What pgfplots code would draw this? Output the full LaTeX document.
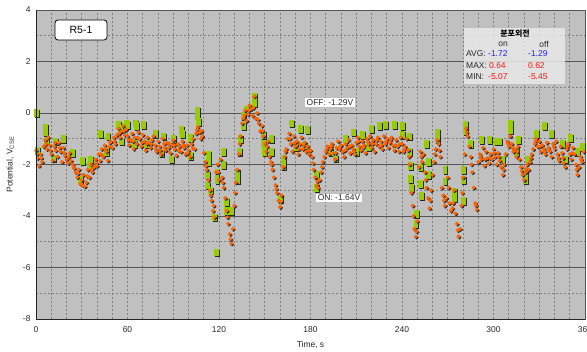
\documentclass[border=0pt]{standalone}
\usepackage{fontspec}
\setmainfont{Liberation Sans}
\newfontfamily\kr{Noto Sans CJK KR}
\usepackage{pgfplots}
\usepackage{pgfplotstable}
\pgfplotsset{compat=1.18}
\definecolor{plotbg}{RGB}{192,192,192}
\definecolor{majgrid}{RGB}{85,85,85}
\definecolor{mingrid}{RGB}{128,128,128}
\definecolor{offgreen}{RGB}{153,204,0}
\definecolor{onorange}{RGB}{255,102,0}
\definecolor{avgblue}{RGB}{30,30,255}
\definecolor{valred}{RGB}{255,20,20}
\definecolor{legbg}{RGB}{232,232,232}
\definecolor{txt}{RGB}{40,40,40}

\pgfplotstableread[row sep=\\]{
t v\\
0 -1.45\\ 1 -1.75\\ 2 -2.05\\ 3 -1.6\\ 4 -1.9\\ 5 -1.3\\ 6 -1.05\\ 7 -1.4\\ 8 -0.95\\ 9 -1.25\\
10 -1.6\\ 11 -1.85\\ 12 -1.3\\ 13 -1.45\\ 14 -1.7\\ 15 -1.15\\ 16 -1.5\\ 17 -1.9\\ 18 -1.35\\ 19 -1.65\\
20 -1.8\\ 21 -1.95\\ 22 -1.55\\ 23 -1.85\\ 24 -2.0\\ 25 -2.15\\ 26 -2.3\\ 27 -2.5\\ 28 -2.2\\ 29 -2.75\\
30 -2.6\\ 31 -2.4\\ 32 -2.85\\ 33 -2.7\\ 34 -2.2\\ 35 -2.5\\ 36 -2.0\\ 37 -2.3\\ 38 -2.1\\ 39 -1.8\\
40 -2.05\\ 41 -1.6\\ 42 -1.85\\ 43 -1.4\\ 44 -1.7\\ 45 -1.25\\ 46 -1.5\\ 47 -1.85\\ 48 -1.3\\ 49 -1.1\\
50 -1.35\\ 51 -0.95\\ 52 -1.2\\ 53 -0.85\\ 54 -0.6\\ 55 -0.95\\ 56 -0.7\\ 57 -0.5\\ 58 -0.85\\ 59 -0.65\\
60 -0.9\\ 61 -1.25\\ 62 -1.05\\ 63 -0.8\\ 64 -1.4\\ 65 -0.95\\ 66 -1.2\\ 67 -0.75\\ 68 -1.0\\ 69 -1.3\\
70 -0.85\\ 71 -1.1\\ 72 -1.45\\ 73 -0.95\\ 74 -1.15\\ 75 -1.35\\ 76 -1.05\\ 77 -0.9\\ 78 -1.25\\ 79 -1.5\\
80 -1.1\\ 81 -1.3\\ 82 -1.6\\ 83 -1.0\\ 84 -1.2\\ 85 -1.45\\ 86 -1.15\\ 87 -1.35\\ 88 -1.55\\ 89 -1.25\\
90 -1.05\\ 91 -1.4\\ 92 -1.65\\ 93 -1.2\\ 94 -1.3\\ 95 -1.5\\ 96 -1.1\\ 97 -1.35\\ 98 -1.6\\ 99 -1.25\\
100 -1.45\\ 101 -1.7\\ 102 -1.2\\ 103 -1.0\\ 104 -1.4\\ 105 -0.8\\ 106 -0.55\\ 107 -0.75\\ 108 -1.0\\ 109 -0.9\\
110 -1.55\\ 111 -1.9\\ 112 -2.2\\ 113 -2.6\\ 114 -3.0\\ 115 -3.4\\ 116 -3.8\\ 117 -4.05\\ 118 -2.3\\ 119 -2.0\\
120 -2.6\\ 121 -1.8\\ 122 -2.5\\ 123 -2.9\\ 124 -3.3\\ 125 -3.8\\ 126 -4.3\\ 127 -4.7\\ 128 -5.07\\ 129 -4.5\\
130 -3.6\\ 131 -2.7\\ 132 -2.2\\ 133 -1.6\\ 134 -0.9\\ 135 -0.4\\ 136 -0.2\\ 137 0.1\\ 138 -0.3\\ 139 -0.05\\
140 0.3\\ 141 0.15\\ 142 -0.1\\ 143 0.64\\ 144 -0.2\\ 145 0.0\\ 146 -0.4\\ 147 -0.7\\ 148 -0.5\\ 149 -0.9\\
150 -1.2\\ 151 -1.5\\ 152 -1.1\\ 153 -1.7\\ 154 -1.9\\ 155 -2.2\\ 156 -2.5\\ 157 -2.8\\ 158 -3.1\\ 159 -3.4\\
160 -3.65\\ 161 -3.2\\ 162 -2.1\\ 163 -1.7\\ 164 -1.4\\ 165 -1.0\\ 166 -0.8\\ 167 -1.2\\ 168 -1.5\\ 169 -0.9\\
170 -1.3\\ 171 -1.1\\ 172 -1.6\\ 173 -1.2\\ 174 -0.95\\ 175 -1.4\\ 176 -1.15\\ 177 -1.5\\ 178 -1.3\\ 179 -1.6\\
180 -1.45\\ 181 -1.7\\ 182 -2.2\\ 183 -2.5\\ 184 -2.8\\ 185 -2.9\\ 186 -2.6\\ 187 -2.3\\ 188 -1.9\\ 189 -1.7\\
190 -1.5\\ 191 -1.3\\ 192 -1.6\\ 193 -1.4\\ 194 -1.2\\ 195 -1.55\\ 196 -1.8\\ 197 -1.35\\ 198 -1.1\\ 199 -1.4\\
200 -1.25\\ 201 -1.5\\ 202 -1.7\\ 203 -1.2\\ 204 -1.35\\ 205 -1.05\\ 206 -1.55\\ 207 -1.25\\ 208 -1.4\\ 209 -1.6\\
210 -1.15\\ 211 -0.95\\ 212 -1.3\\ 213 -1.45\\ 214 -1.1\\ 215 -1.25\\ 216 -1.55\\ 217 -1.0\\ 218 -1.2\\ 219 -0.9\\
220 -1.35\\ 221 -1.05\\ 222 -1.5\\ 223 -1.2\\ 224 -0.95\\ 225 -1.3\\ 226 -1.1\\ 227 -1.4\\ 228 -0.9\\ 229 -1.2\\
230 -1.0\\ 231 -1.35\\ 232 -1.15\\ 233 -0.95\\ 234 -1.25\\ 235 -1.45\\ 236 -1.05\\ 237 -1.3\\ 238 -1.5\\ 239 -0.95\\
240 -1.2\\ 241 -1.5\\ 242 -1.3\\ 243 -1.0\\ 244 -1.45\\ 245 -2.0\\ 246 -3.1\\ 247 -3.6\\ 248 -4.5\\ 249 -4.8\\
250 -4.2\\ 251 -2.1\\ 252 -1.5\\ 253 -1.9\\ 254 -1.6\\ 255 -2.3\\ 256 -2.9\\ 257 -3.3\\ 258 -3.7\\ 259 -3.0\\
260 -2.4\\ 261 -1.9\\ 262 -1.4\\ 263 -1.05\\ 264 -1.2\\ 265 -1.7\\ 266 -2.9\\ 267 -3.2\\ 268 -3.6\\ 269 -3.3\\
270 -2.5\\ 271 -3.5\\ 272 -3.8\\ 273 -3.7\\ 274 -3.0\\ 275 -3.9\\ 276 -4.3\\ 277 -4.8\\ 278 -4.5\\ 279 -3.6\\
280 -2.5\\ 281 -1.6\\ 282 -0.6\\ 283 -0.9\\ 284 -1.3\\ 285 -1.7\\ 286 -2.3\\ 287 -2.9\\ 288 -3.5\\ 289 -3.75\\
290 -1.9\\ 291 -1.6\\ 292 -1.8\\ 293 -1.35\\ 294 -2.05\\ 295 -1.5\\ 296 -1.75\\ 297 -1.95\\ 298 -1.6\\ 299 -1.8\\
300 -1.4\\ 301 -1.7\\ 302 -2.0\\ 303 -1.55\\ 304 -1.85\\ 305 -2.1\\ 306 -2.4\\ 307 -2.0\\ 308 -1.6\\ 309 -1.1\\
310 -1.3\\ 311 -0.9\\ 312 -1.2\\ 313 -1.5\\ 314 -1.4\\ 315 -1.7\\ 316 -1.3\\ 317 -1.8\\ 318 -2.1\\ 319 -2.4\\
320 -2.6\\ 321 -2.3\\ 322 -2.0\\ 323 -2.2\\ 324 -1.9\\ 325 -1.6\\ 326 -1.4\\ 327 -1.2\\ 328 -1.0\\ 329 -1.3\\
330 -1.1\\ 331 -1.5\\ 332 -1.25\\ 333 -1.4\\ 334 -1.6\\ 335 -1.15\\ 336 -1.35\\ 337 -1.5\\ 338 -1.7\\ 339 -1.2\\
340 -1.4\\ 341 -1.1\\ 342 -1.6\\ 343 -1.85\\ 344 -1.3\\ 345 -1.55\\ 346 -1.95\\ 347 -2.1\\ 348 -1.4\\ 349 -1.2\\
350 -1.6\\ 351 -1.8\\ 352 -1.35\\ 353 -1.6\\ 354 -2.0\\ 355 -2.4\\ 356 -2.1\\ 357 -1.7\\ 358 -1.9\\ 359 -1.5\\
0.5 -1.6\\ 3.5 -1.75\\ 6.5 -1.2\\ 9.5 -1.45\\ 12.5 -1.15\\ 15.5 -1.35\\ 18.5 -1.55\\ 21.5 -1.7\\ 24.5 -2.1\\ 27.5 -2.35\\
30.5 -2.8\\ 33.5 -2.45\\ 36.5 -2.2\\ 39.5 -1.95\\ 42.5 -1.6\\ 45.5 -1.4\\ 48.5 -1.15\\ 51.5 -1.1\\ 54.5 -0.8\\ 57.5 -0.7\\
60.5 -1.05\\ 63.5 -1.1\\ 66.5 -0.95\\ 69.5 -1.15\\ 72.5 -1.2\\ 75.5 -1.2\\ 78.5 -1.4\\ 81.5 -1.45\\ 84.5 -1.35\\ 87.5 -1.2\\
90.5 -1.25\\ 93.5 -1.45\\ 96.5 -1.25\\ 99.5 -1.55\\ 102.5 -1.35\\ 105.5 -0.65\\ 108.5 -0.7\\ 111.5 -2.05\\ 114.5 -3.2\\ 116.5 -3.6\\
119.5 -2.3\\ 122.5 -2.7\\ 125.5 -4.05\\ 127.5 -4.9\\ 130.5 -3.1\\ 133.5 -1.2\\ 136.5 -0.1\\ 139.5 0.1\\ 142.5 0.2\\ 145.5 -0.25\\
148.5 -0.7\\ 151.5 -1.3\\ 154.5 -2.0\\ 157.5 -2.95\\ 160.5 -3.45\\ 163.5 -1.5\\ 166.5 -1.0\\ 169.5 -1.15\\ 172.5 -1.4\\ 175.5 -1.25\\
178.5 -1.45\\ 181.5 -1.95\\ 184.5 -2.65\\ 187.5 -2.1\\ 190.5 -1.4\\ 193.5 -1.3\\ 196.5 -1.55\\ 199.5 -1.3\\ 202.5 -1.45\\ 205.5 -1.3\\
208.5 -1.5\\ 211.5 -1.1\\ 214.5 -1.35\\ 217.5 -1.1\\ 220.5 -1.2\\ 223.5 -1.05\\ 226.5 -1.25\\ 229.5 -1.1\\ 232.5 -1.05\\ 235.5 -1.25\\
238.5 -1.2\\ 241.5 -1.4\\ 244.5 -1.7\\ 247.5 -4.0\\ 249.5 -4.6\\ 252.5 -1.7\\ 255.5 -2.6\\ 258.5 -3.4\\ 261.5 -1.6\\ 264.5 -1.45\\
267.5 -3.4\\ 270.5 -2.9\\ 273.5 -3.5\\ 276.5 -4.55\\ 279.5 -3.1\\ 282.5 -0.75\\ 285.5 -2.0\\ 288.5 -3.6\\ 291.5 -1.7\\ 294.5 -1.8\\
297.5 -1.75\\ 300.5 -1.55\\ 303.5 -1.7\\ 306.5 -2.2\\ 309.5 -1.2\\ 312.5 -1.35\\ 315.5 -1.5\\ 318.5 -2.25\\ 321.5 -2.15\\ 324.5 -1.75\\
327.5 -1.1\\ 330.5 -1.3\\ 333.5 -1.5\\ 336.5 -1.45\\ 339.5 -1.3\\ 342.5 -1.75\\ 345.5 -1.75\\ 348.5 -1.3\\ 351.5 -1.55\\ 354.5 -2.2\\
357.5 -1.8\\
}\ondata

\pgfplotstableread[row sep=\\]{
t v\\
0 0.0\\ 1 -1.45\\ 6 -0.55\\ 6 -0.75\\ 6.5 -1.1\\ 11 -1.75\\ 12.5 -1.1\\ 18 -1.0\\ 24 -1.55\\ 29 -2.6\\
30 -1.85\\ 35 -2.05\\ 35.5 -1.8\\ 42 -0.8\\ 46 -1.5\\ 47 -0.9\\ 54 -0.45\\ 55 -0.6\\ 56 -1.1\\ 59 -0.4\\
60 -0.45\\ 64.5 -1.2\\ 65 -0.4\\ 66 -0.5\\ 70.5 -0.45\\ 72 -1.2\\ 78 -0.8\\ 82 -1.55\\ 83.6 -0.9\\ 88.6 -1.8\\
90 -1.0\\ 95.5 -0.65\\ 96 -0.8\\ 101 -0.95\\ 101 -1.65\\ 106 0.1\\ 106 -0.1\\ 106.5 -0.35\\ 113 -1.6\\ 113 -1.9\\
112 -2.4\\ 112 -2.8\\ 114 -3.0\\ 117 -4.05\\ 118 -5.4\\ 118.5 -2.3\\ 118.5 -2.6\\ 123 -1.5\\ 123 -2.0\\ 124.5 -3.45\\
124.5 -3.8\\ 128 -3.8\\ 132 -2.3\\ 132 -2.6\\ 133 -1.5\\ 134 -1.0\\ 136 -0.1\\ 136 -0.5\\ 138 0.15\\ 143 0.62\\
143 0.4\\ 149 -0.85\\ 149 -1.2\\ 149.5 -1.5\\ 154 -1.0\\ 154 -1.5\\ 160 -3.35\\ 162 -1.75\\ 162 -2.05\\ 167.5 -0.4\\
173 -0.6\\ 178 -0.65\\ 170 -1.3\\ 176 -1.25\\ 184 -2.4\\ 184 -2.9\\ 193 -1.5\\ 196 -1.75\\ 203 -1.0\\ 208 -0.75\\
210 -1.5\\ 214 -0.85\\ 218 -1.3\\ 220 -0.6\\ 225 -0.5\\ 229 -0.45\\ 235 -0.45\\ 240 -0.85\\ 240 -0.5\\ 245 -0.9\\
245 -1.5\\ 245.5 -2.05\\ 245.5 -2.55\\ 246 -2.9\\ 249.5 -3.9\\ 249 -4.3\\ 252 -2.1\\ 252 -2.75\\ 252.5 -3.2\\ 256 -1.2\\
257 -1.9\\ 257 -2.4\\ 263 -0.75\\ 263 -1.0\\ 268 -2.2\\ 268 -2.65\\ 274 -3.05\\ 274 -3.3\\ 280 -2.2\\ 280 -2.6\\
280 -3.4\\ 281.5 -0.45\\ 281.5 -0.7\\ 285 -1.2\\ 292 -1.05\\ 297 -1.05\\ 302 -1.1\\ 304 -1.1\\ 306 -1.8\\ 311 -0.4\\
311 -0.65\\ 316 -1.05\\ 315 -1.5\\ 321 -2.35\\ 321 -2.6\\ 322 -1.8\\ 328 -0.8\\ 333 -0.5\\ 338 -0.8\\ 345 -1.2\\
347 -1.8\\ 350 -0.95\\ 355 -1.5\\ 358 -1.3\\
}\offdata

\begin{document}
\begin{tikzpicture}[font=\fontsize{8.5}{10}\selectfont]
\useasboundingbox (-36bp,-33bp) rectangle (551bp,319bp);
\fill[white] (-36bp,-33bp) rectangle (551bp,319bp);
\begin{axis}[
  scale only axis, width=549bp, height=309bp,
  xmin=0, xmax=360, ymin=-8, ymax=4,
  xtick={0,60,...,360}, minor xtick={10,20,...,350},
  ytick={-8,-6,...,4}, minor ytick={-7,-5,...,3},
  xmajorgrids, xminorgrids, ymajorgrids, yminorgrids,
  major x grid style={mingrid, dash pattern=on 2bp off 2bp, line width=0.6bp},
  minor x grid style={mingrid, dash pattern=on 2bp off 2bp, line width=0.6bp},
  major y grid style={majgrid, line width=0.9bp},
  minor y grid style={mingrid, dash pattern=on 2bp off 2bp, line width=0.6bp},
  major tick length=0pt, minor tick length=0pt,
  axis background/.style={fill=plotbg},
  axis line style={draw=majgrid, line width=0.9bp},
  /pgf/number format/assume math mode=true,
  ticklabel style={text=txt},
  xticklabel style={yshift=-4bp},
  yticklabel style={xshift=-2bp},
  xlabel={Time, s},
  ylabel={Potential, V\textsubscript{CSE}},
  xlabel style={at={(axis description cs:0.5,-0.084)}, anchor=center, text=txt},
  ylabel style={at={(axis description cs:-0.047,0.5)}, anchor=center, text=txt},
  clip=false,
]
\addplot[only marks, mark=square*, mark size=2.3bp, mark options={xshift=1bp, yshift=-1bp, xscale=0.85, yscale=1.45, draw=black!85, fill=black!85}] table[x=t, y=v] {\offdata};
\addplot[only marks, mark=square*, mark size=2.3bp, mark options={xscale=0.85, yscale=1.45, draw=offgreen, fill=offgreen}] table[x=t, y=v] {\offdata};
\addplot[only marks, mark=*, mark size=1.75bp, mark options={xshift=0.9bp, yshift=-0.9bp, draw=black!85, fill=black!85}] table[x=t, y=v] {\ondata};
\addplot[only marks, mark=*, mark size=1.75bp, mark options={draw=onorange, fill=onorange}] table[x=t, y=v] {\ondata};
\end{axis}
\draw[black!85, line width=1bp] (0,309bp) -- (0,0) -- (549bp,0);
\node[draw=black, fill=white, rounded corners=3bp, line width=0.8bp, minimum width=52bp, minimum height=20bp, inner sep=0pt, font=\fontsize{10.5}{12}\selectfont] at (45bp,289bp) {R5-1};
\node[fill=white, inner sep=1.5bp, text=txt] at (294bp,216bp) {OFF: -1.29V};
\node[fill=white, inner sep=1.5bp, text=txt] at (303bp,121bp) {ON: -1.64V};
\fill[legbg, fill opacity=0.85] (428bp,235bp) rectangle (529bp,291bp);
\node[font=\kr\bfseries\fontsize{8}{9}\selectfont, text=black] at (479bp,285.5bp) {분포외전};
\node[text=txt] at (467bp,275bp) {on};
\node[text=txt] at (508bp,275bp) {off};
\node[anchor=west, inner sep=0pt, text=txt] at (430bp,265bp) {AVG:};
\node[anchor=west, inner sep=0pt, text=avgblue] at (452bp,265bp) {-1.72};
\node[anchor=west, inner sep=0pt, text=avgblue] at (492bp,265bp) {-1.29};
\node[anchor=west, inner sep=0pt, text=txt] at (430bp,253bp) {MAX:};
\node[anchor=west, inner sep=0pt, text=valred] at (453bp,253bp) {0.64};
\node[anchor=west, inner sep=0pt, text=valred] at (492bp,253bp) {0.62};
\node[anchor=west, inner sep=0pt, text=txt] at (430bp,242bp) {MIN:};
\node[anchor=west, inner sep=0pt, text=valred] at (452bp,242bp) {-5.07};
\node[anchor=west, inner sep=0pt, text=valred] at (492bp,242bp) {-5.45};
\end{tikzpicture}
\end{document}
